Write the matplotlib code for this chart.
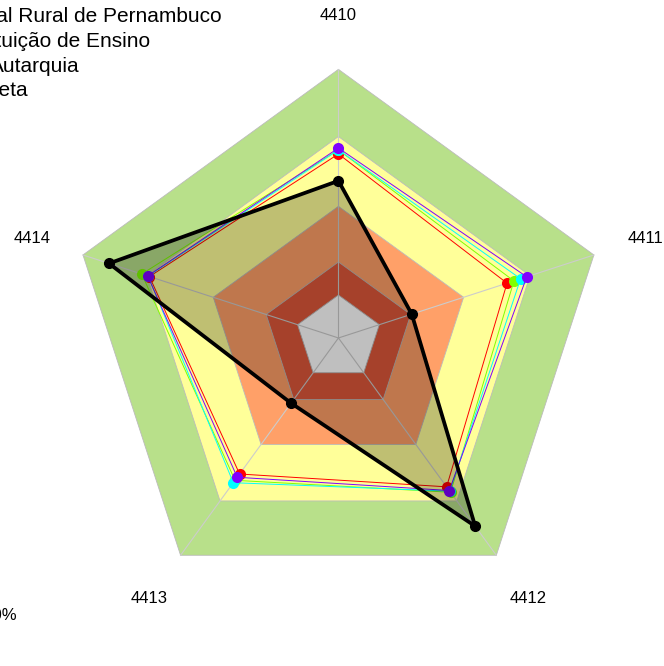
import numpy as np
import matplotlib.pyplot as plt
from matplotlib.patches import Polygon

plt.rcParams['font.family'] = ['Liberation Sans', 'DejaVu Sans']

axes_labels = ["4410", "4411", "4412", "4413", "4414"]

# background bands (outer radius in % of the scale) and their colours
band_limits = [100, 75, 49, 28.3, 16]
band_colors = ["#B8E08A", "#FFFF99", "#FFA068", "#DE583A", "#FFFFFF"]

series_names = ["Universidade Federal Rural de Pernambuco", "Instituição de Ensino",
                "Autarquia", "Meta"]
series_colors = ["#FF0000", "#80FF00", "#00FFFF", "#8000FF"]
series_values = [
    [68.5, 66.0, 68.5, 62.6, 74.0],
    [70.0, 68.7, 71.0, 65.5, 77.0],
    [70.0, 71.3, 70.5, 66.6, 74.5],
    [70.7, 73.7, 70.2, 64.1, 74.7],
]
ufrpe_values = [58.5, 28.7, 86.6, 30.0, 89.8]
max_value = 100

n = len(axes_labels)
theta = np.pi / 2 - np.arange(n) * 2 * np.pi / n


def to_xy(vals):
    r = np.asarray(vals, dtype=float) / max_value
    return r * np.cos(theta), r * np.sin(theta)


fig = plt.figure(figsize=(6.64, 6.66), dpi=100)
ax = fig.add_axes([0, 0, 1, 1])
ax.set_xlim(-1.260, 1.212)
ax.set_ylim(-1.221, 1.258)
ax.set_aspect("equal")
ax.axis("off")

for lim, col in zip(band_limits, band_colors):
    x, y = to_xy([lim] * n)
    ax.add_patch(Polygon(np.column_stack([x, y]), closed=True, facecolor=col,
                         edgecolor="#BBBBBB", lw=0.6, zorder=1))

# spokes
for t in theta:
    ax.plot([0, np.cos(t)], [0, np.sin(t)], color="#CCCCCC", lw=0.8, zorder=2)

for vals, col in zip(series_values, series_colors):
    x, y = to_xy(vals)
    ax.plot(np.append(x, x[0]), np.append(y, y[0]), color=col, lw=0.7, zorder=3)
    ax.plot(x, y, "o", color=col, ms=8, mec="none", zorder=3)

x, y = to_xy(ufrpe_values)
ax.add_patch(Polygon(np.column_stack([x, y]), closed=True, facecolor="black",
                     alpha=0.25, edgecolor="none", zorder=4))
ax.plot(np.append(x, x[0]), np.append(y, y[0]), color="black", lw=2.7, zorder=5)
ax.plot(x, y, "o", color="black", ms=7, zorder=5)

for t, lab in zip(theta, axes_labels):
    ax.text(1.2 * np.cos(t), 1.2 * np.sin(t), lab, ha="center", va="center",
            fontsize=12, zorder=6)

# legend text (entries start left of the visible area)
legend_right = [222, 150, 80, 28]
for i, (name, right) in enumerate(zip(series_names, legend_right)):
    fig.text(right / 664, 1 - (17 + 24.5 * i) / 666, name, ha="right", va="center",
             fontsize=15, color="black")

fig.text(17 / 664, 1 - 616 / 666, "100%", ha="right", va="center", fontsize=12)

fig.savefig("out.png", dpi=100)
